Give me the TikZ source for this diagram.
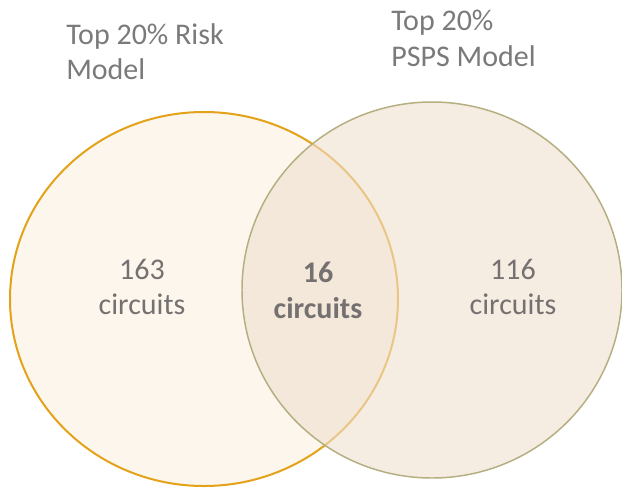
\documentclass[tikz,border=0pt]{standalone}
\usepackage{fontspec}
\setmainfont{Carlito}
\usepackage{tikz}

\definecolor{riskline}{HTML}{E3A21A}
\definecolor{riskfill}{HTML}{FDF6EC}
\definecolor{pspsline}{HTML}{B5AE80}
\definecolor{pspsfill}{HTML}{EEDFCF}
\definecolor{headgray}{HTML}{7A7A7A}
\definecolor{bodygray}{HTML}{767171}

\begin{document}
\begin{tikzpicture}[x=0.75pt,y=0.75pt,yscale=-1,xscale=1,
    txt/.style={inner sep=0.75pt, font=\fontsize{22.5}{26.5}\selectfont},
    boldtxt/.style={inner sep=0.75pt, font=\fontsize{22.5}{26.5}\selectfont\bfseries}]
            \useasboundingbox (0,0) rectangle (622,487);

            %Shape: Ellipse [id:risk]
            \draw [color=riskline, fill=riskfill, line width=1.5]  (204,299) ellipse [x radius=194, y radius=187] ;
            %Shape: Ellipse [id:psps]
            \draw [color=pspsline, fill=pspsfill, fill opacity=0.6, line width=1.1]  (432,290) ellipse [x radius=190, y radius=188] ;

            % Text Node
            \draw (65,22) node (riskhead) [anchor=north west][txt][text=headgray]  [align=left] {Top 20\% Risk\\Model};
            % Text Node
            \draw (390,9) node (pspshead) [anchor=north west][txt][text=headgray]  [align=left] {Top 20\%\\PSPS Model};
            % Text Node
            \draw (142,258) node (riskonly) [anchor=north][txt][text=bodygray]  [align=center] {163\\circuits};
            % Text Node
            \draw (318,261) node (both) [anchor=north][boldtxt][text=bodygray]  [align=center] {16\\circuits};
            % Text Node
            \draw (513,258) node (pspsonly) [anchor=north][txt][text=bodygray]  [align=center] {116\\circuits};

        \end{tikzpicture}
\end{document}
